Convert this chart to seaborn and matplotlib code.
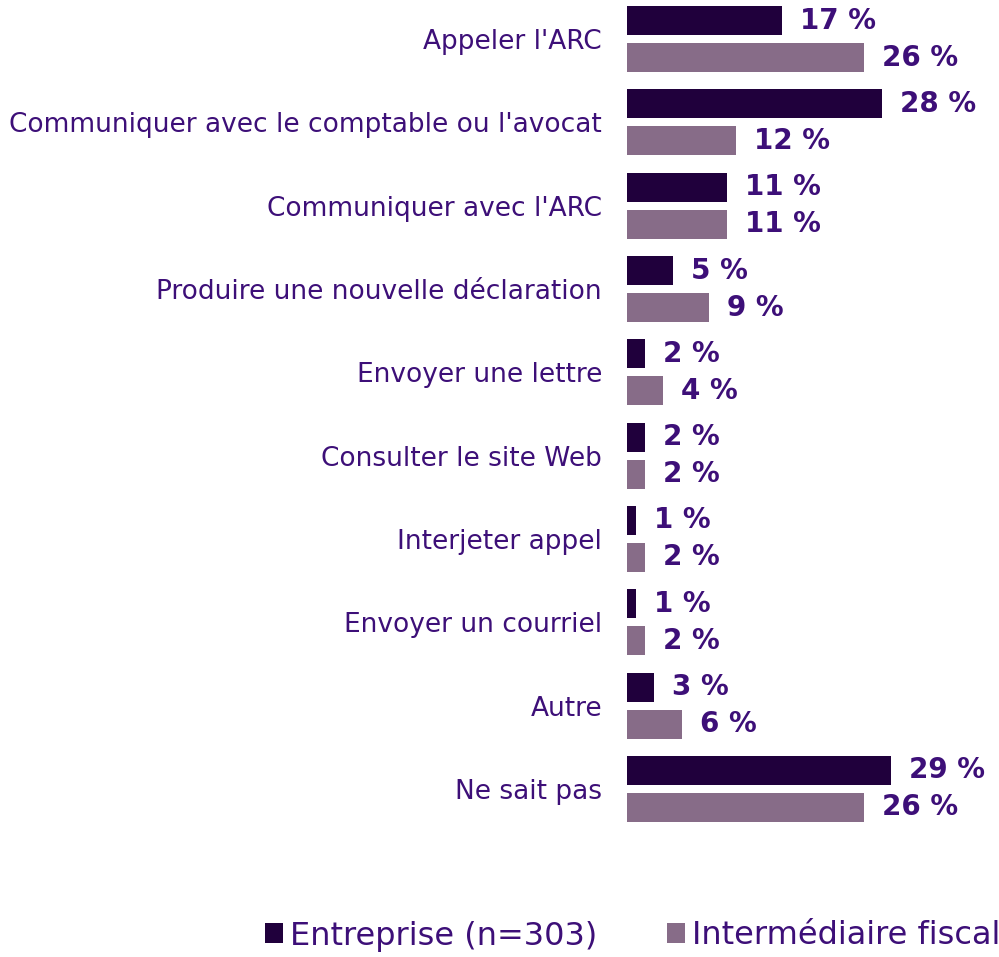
import matplotlib
matplotlib.use("Agg")
import matplotlib.pyplot as plt
import seaborn as sns
import pandas as pd
from matplotlib.patches import Patch

categories = ["Appeler l'ARC", "Communiquer avec le comptable ou l'avocat",
              "Communiquer avec l'ARC", "Produire une nouvelle déclaration",
              "Envoyer une lettre", "Consulter le site Web", "Interjeter appel",
              "Envoyer un courriel", "Autre", "Ne sait pas"]
series_names = ["Entreprise (n=303)", "Intermédiaire fiscal (n=...)"]
legend_labels = ["Entreprise (n=303)", "Intermédiaire fiscal"]
entreprise = [17, 28, 11, 5, 2, 2, 1, 1, 3, 29]
intermediaire = [26, 12, 11, 9, 4, 2, 2, 2, 6, 26]

colors = ["#20003C", "#876C88"]
text_color = "#3D0F78"

df = pd.DataFrame({
    "cat": categories * 2,
    "val": entreprise + intermediaire,
    "series": [series_names[0]] * len(categories) + [series_names[1]] * len(categories),
})

sns.set_style("white")
plt.rcParams["font.family"] = ["DejaVu Sans"]

fig = plt.figure(figsize=(9.99, 9.57), dpi=100)
ax = fig.add_axes([627 / 999, 107 / 957, 364 / 999, 850 / 957])

sns.barplot(data=df, y="cat", x="val", hue="series", order=categories,
            hue_order=series_names, palette=colors, orient="h",
            width=0.888, gap=0.216, ax=ax, legend=False, saturation=1,
            linewidth=0)

ax.set_xlim(0, 40)
ax.set_ylim(9 + 61 / 83.33, -39 / 83.33)
ax.set_xlabel("")
ax.set_ylabel("")
ax.set_xticks([])
ax.tick_params(axis="y", length=0, pad=18, labelsize=19, labelcolor=text_color)
for s in ax.spines.values():
    s.set_visible(False)

for cont in ax.containers:
    for bar in cont:
        w = bar.get_width()
        y = bar.get_y() + bar.get_height() / 2
        ax.annotate(f"{w:.0f} %", xy=(w, y), xytext=(13, 0),
                    textcoords="offset points", va="center", ha="left",
                    fontsize=20, fontweight="bold", color=text_color)

handles = [Patch(facecolor=c, edgecolor="none") for c in colors]
fig.legend(handles, legend_labels, loc="center left",
           bbox_to_anchor=(265 / 999, 1 - 936 / 957), ncol=2, frameon=False,
           fontsize=23, labelcolor=text_color, handlelength=0.56,
           handleheight=0.56, handletextpad=0.22, columnspacing=2.2,
           borderaxespad=0, borderpad=0)

fig.savefig("out.png", dpi=100)
